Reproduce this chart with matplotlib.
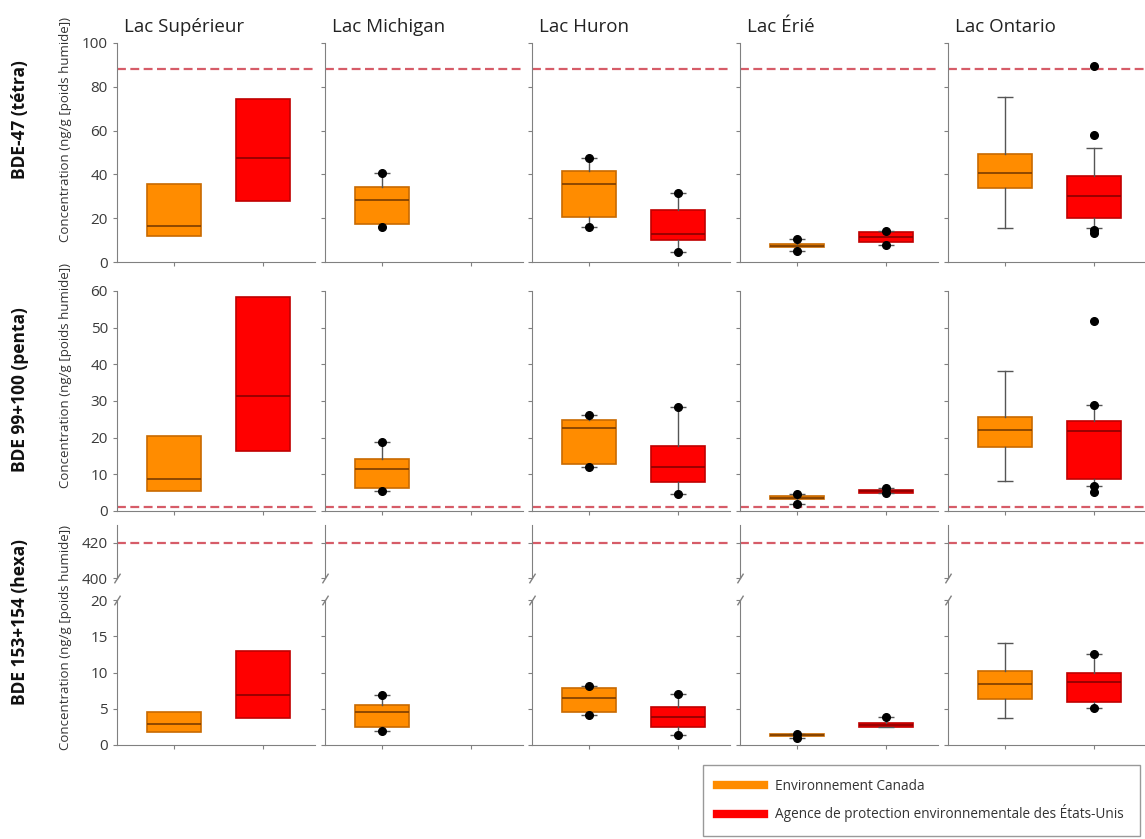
import matplotlib
matplotlib.use('Agg')
import matplotlib.pyplot as plt
from matplotlib.lines import Line2D

plt.rcParams['font.family'] = ['Open Sans', 'DejaVu Sans']

lakes = ['Lac Supérieur', 'Lac Michigan', 'Lac Huron', 'Lac Érié', 'Lac Ontario']
congeners = ['BDE-47 (tétra)', 'BDE 99+100 (penta)', 'BDE 153+154 (hexa)']
agencies = ['Environnement Canada',
            'Agence de protection environnementale des États-Unis']

# per lake: (q1, median, q3, whisker low, whisker high, points)
bde47_ec = [(12.0, 16.5, 35.7, None, None, []),
            (17.2, 28.3, 34.4, None, 40.8, [40.8, 16.1]),
            (20.4, 35.6, 41.7, 16.1, 47.6, [16.1, 47.6]),
            (6.8, 7.5, 8.3, 5.0, 10.3, [5.0, 10.3]),
            (33.9, 40.8, 49.3, 15.4, 75.2, [])]
bde47_epa = [(27.8, 47.5, 74.4, None, None, []),
             None,
             (10.0, 13.0, 23.7, 4.7, 31.4, [4.7, 31.4]),
             (9.3, 11.6, 13.6, 7.8, 14.2, [7.8, 14.2]),
             (20.2, 30.3, 39.4, 15.4, 51.9, [13.2, 14.4, 58.0, 89.6])]

bde99_ec = [(5.5, 8.7, 20.4, None, None, []),
            (6.2, 11.4, 14.3, 5.5, 18.9, [5.5, 18.9]),
            (12.9, 22.6, 24.9, 11.9, 26.1, [11.9, 26.1]),
            (3.2, 3.6, 4.1, 2.0, 4.7, [2.0, 4.7]),
            (17.4, 22.0, 25.6, 8.3, 38.2, [])]
bde99_epa = [(16.3, 31.5, 58.5, None, None, []),
             None,
             (7.8, 12.0, 17.6, 4.7, 28.3, [4.7, 28.3]),
             (5.0, 5.4, 5.8, 4.9, 6.2, [4.9, 6.2]),
             (8.8, 21.7, 24.5, 6.9, 28.9, [5.3, 6.9, 28.9, 51.9])]

bde153_ec = [(1.75, 2.85, 4.5, None, None, []),
             (2.5, 4.5, 5.5, 2.0, 6.9, [2.0, 6.9]),
             (4.5, 6.5, 7.9, 4.1, 8.2, [4.1, 8.2]),
             (1.2, 1.35, 1.5, 1.0, 1.5, [1.0, 1.5]),
             (6.4, 8.4, 10.25, 3.7, 14.1, [])]
bde153_epa = [(3.7, 6.9, 12.9, None, None, []),
              None,
              (2.5, 3.9, 5.3, 1.4, 7.0, [1.4, 7.0]),
              (2.5, 2.75, 3.0, 2.5, 3.9, [3.9]),
              (6.0, 8.7, 10.0, 5.06, 12.55, [5.06, 12.55])]

# guideline levels for each congener
guide = [88, 1, 420]

ec_face, ec_edge, ec_med = '#ff8c00', '#c86a00', '#7a3c00'
epa_face, epa_edge, epa_med = '#ff0000', '#c00000', '#8a0000'
spine_c = '#808080'
guide_c = '#d65c68'

W, H = 1145, 839
fig = plt.figure(figsize=(W / 100, H / 100), dpi=100)


def rect(left, top, width, height):
    return [left / W, 1 - (top + height) / H, width / W, height / H]


def style(ax, show_labels, bottom=True):
    for s in ['top', 'right']:
        ax.spines[s].set_visible(False)
    ax.spines['left'].set_color(spine_c)
    ax.spines['bottom'].set_color(spine_c)
    if not bottom:
        ax.spines['bottom'].set_visible(False)
        ax.set_xticks([])
    else:
        ax.set_xticks([1, 2])
        ax.set_xticklabels([])
    ax.tick_params(axis='both', colors=spine_c, length=3, width=0.8,
                   labelcolor='#3a3a3a', labelsize=11)
    if not show_labels:
        ax.set_yticklabels([])
    ax.set_xlim(0.36, 2.585)


def draw_box(ax, pos, stats, face, edge, medc):
    if stats is None:
        return
    q1, med, q3, lo, hi, pts = stats
    d = dict(q1=q1, med=med, q3=q3,
             whislo=q1 if lo is None else lo,
             whishi=q3 if hi is None else hi, fliers=[])
    ax.bxp([d], positions=[pos], widths=0.6, patch_artist=True,
           showcaps=False, showfliers=False, manage_ticks=False,
           boxprops=dict(facecolor=face, edgecolor=edge, linewidth=1.2),
           medianprops=dict(color=medc, linewidth=1.2),
           whiskerprops=dict(color='#555555', linewidth=1))
    for w in (lo, hi):
        if w is not None:
            ax.hlines(w, pos - 0.085, pos + 0.085, color='#555555', lw=1)
    if pts:
        ax.plot([pos] * len(pts), pts, 'o', color='black', ms=5.5, zorder=5)


cols = [117, 325, 532, 740, 948]
col_w = 198

rows = [(bde47_ec, bde47_epa, (0, 100), range(0, 101, 20)),
        (bde99_ec, bde99_epa, (0, 60), range(0, 61, 10))]
row_top = [43, 291]
row_h = [219, 220]

for r, (ec, epa, ylim, ticks) in enumerate(rows):
    for c, lake in enumerate(lakes):
        ax = fig.add_axes(rect(cols[c], row_top[r], col_w, row_h[r]))
        ax.axhline(guide[r], color=guide_c, ls=(0, (4, 2)), lw=1.6,
                   zorder=1, clip_on=False)
        draw_box(ax, 1, ec[c], ec_face, ec_edge, ec_med)
        draw_box(ax, 2, epa[c], epa_face, epa_edge, epa_med)
        ax.set_ylim(*ylim)
        ax.set_yticks(list(ticks))
        style(ax, c == 0)
        if r == 0:
            ax.text(0.035, 1.03, lake, transform=ax.transAxes, fontsize=13.5,
                    color='#222222', ha='left', va='bottom')

# third row with a broken axis
for c in range(len(lakes)):
    top = fig.add_axes(rect(cols[c], 525, col_w, 53))
    bot = fig.add_axes(rect(cols[c], 600, col_w, 145))
    top.axhline(guide[2], color=guide_c, ls=(0, (4, 2)), lw=1.6,
                zorder=1, clip_on=False)
    draw_box(bot, 1, bde153_ec[c], ec_face, ec_edge, ec_med)
    draw_box(bot, 2, bde153_epa[c], epa_face, epa_edge, epa_med)
    top.set_ylim(400, 430)
    top.set_yticks([400, 420])
    style(top, c == 0, bottom=False)
    bot.set_ylim(0, 20)
    bot.set_yticks([0, 5, 10, 15, 20])
    style(bot, c == 0)
    kw = dict(marker=[(-1, -1.6), (1, 1.6)], markersize=7, linestyle='none',
              color=spine_c, mec=spine_c, mew=1, clip_on=False)
    top.plot([0], [0], transform=top.transAxes, **kw)
    bot.plot([0], [1], transform=bot.transAxes, **kw)

# row titles and axis titles
row_mid = [120, 390, 622]
ylab_mid = [130, 375, 638]
for r in range(3):
    fig.text(20 / W, 1 - row_mid[r] / H, congeners[r], rotation=90,
             fontsize=12.5, fontweight='bold', color='#111111',
             ha='center', va='center')
    fig.text(66 / W, 1 - ylab_mid[r] / H,
             'Concentration (ng/g [poids humide])', rotation=90,
             fontsize=9.5, color='#333333', ha='center', va='center')

handles = [Line2D([], [], color=ec_face, lw=6),
           Line2D([], [], color=epa_face, lw=6)]
leg = fig.legend(handles, agencies, loc='lower left',
                 bbox_to_anchor=(703 / W, 3 / H, 437 / W, 70 / H),
                 mode='expand', borderaxespad=0, fontsize=9.8,
                 handlelength=3.5, labelspacing=0.8, borderpad=1.0,
                 fancybox=False, edgecolor='#999999', framealpha=1)
for t in leg.get_texts():
    t.set_color('#333333')

fig.savefig('out.png', dpi=100)
